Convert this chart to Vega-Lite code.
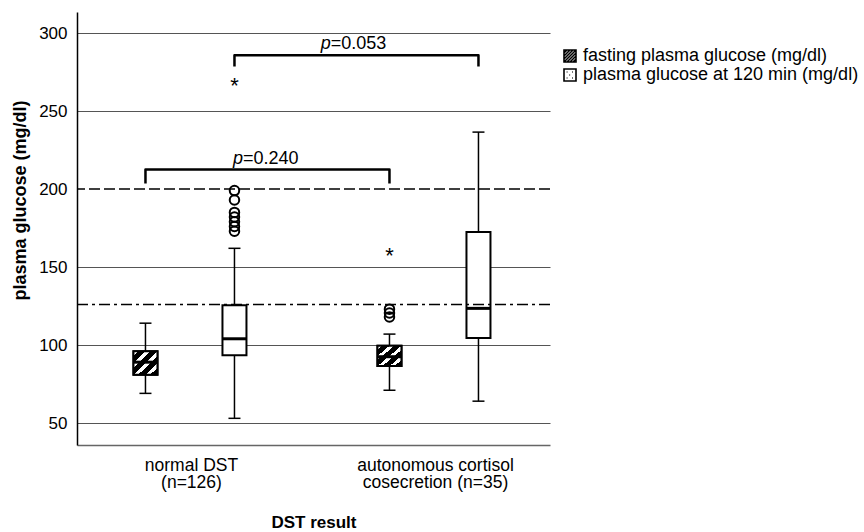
{
  "$schema": "https://vega.github.io/schema/vega-lite/v6.json",
  "width": 473,
  "height": 433,
  "autosize": {"type": "none"},
  "padding": {"left": 77, "top": 12, "right": 314, "bottom": 87},
  "background": "white",
  "config": {
    "font": "Liberation Sans",
    "view": {"stroke": null},
    "axis": {"labelColor": "black", "titleColor": "black", "labelFontSize": 17, "titleFontSize": 17, "titleFontWeight": "bold", "ticks": false},
    "legend": {"labelFontSize": 18, "labelColor": "black"}
  },
  "datasets": {
    "boxes": [
      {"group": "normal", "type": "fasting plasma glucose (mg/dl)", "lo": 69, "q1": 81, "median": 89, "q3": 96, "hi": 114},
      {"group": "normal", "type": "plasma glucose at 120 min (mg/dl)", "lo": 53, "q1": 93.5, "median": 104, "q3": 125.5, "hi": 162},
      {"group": "autonomous", "type": "fasting plasma glucose (mg/dl)", "lo": 71, "q1": 86.5, "median": 92.5, "q3": 99.5, "hi": 107},
      {"group": "autonomous", "type": "plasma glucose at 120 min (mg/dl)", "lo": 64, "q1": 104.5, "median": 123.5, "q3": 172.5, "hi": 236.5}
    ],
    "outliers": [
      {"group": "normal", "type": "plasma glucose at 120 min (mg/dl)", "glucose": 199},
      {"group": "normal", "type": "plasma glucose at 120 min (mg/dl)", "glucose": 193},
      {"group": "normal", "type": "plasma glucose at 120 min (mg/dl)", "glucose": 185},
      {"group": "normal", "type": "plasma glucose at 120 min (mg/dl)", "glucose": 182},
      {"group": "normal", "type": "plasma glucose at 120 min (mg/dl)", "glucose": 179},
      {"group": "normal", "type": "plasma glucose at 120 min (mg/dl)", "glucose": 176},
      {"group": "normal", "type": "plasma glucose at 120 min (mg/dl)", "glucose": 173},
      {"group": "autonomous", "type": "fasting plasma glucose (mg/dl)", "glucose": 123},
      {"group": "autonomous", "type": "fasting plasma glucose (mg/dl)", "glucose": 120.5},
      {"group": "autonomous", "type": "fasting plasma glucose (mg/dl)", "glucose": 118}
    ],
    "extremes": [
      {"group": "normal", "type": "plasma glucose at 120 min (mg/dl)", "glucose": 269},
      {"group": "autonomous", "type": "fasting plasma glucose (mg/dl)", "glucose": 160}
    ],
    "thresholds": [
      {"threshold": "diabetes 120 min", "glucose": 200},
      {"threshold": "diabetes fasting", "glucose": 126}
    ],
    "brackets": [
      {"comparison": "fasting", "group": "normal", "type": "fasting plasma glucose (mg/dl)", "glucose": 203.6, "seq": 1},
      {"comparison": "fasting", "group": "normal", "type": "fasting plasma glucose (mg/dl)", "glucose": 212.5, "seq": 2},
      {"comparison": "fasting", "group": "autonomous", "type": "fasting plasma glucose (mg/dl)", "glucose": 212.5, "seq": 3},
      {"comparison": "fasting", "group": "autonomous", "type": "fasting plasma glucose (mg/dl)", "glucose": 203.6, "seq": 4},
      {"comparison": "120 min", "group": "normal", "type": "plasma glucose at 120 min (mg/dl)", "glucose": 278.6, "seq": 1},
      {"comparison": "120 min", "group": "normal", "type": "plasma glucose at 120 min (mg/dl)", "glucose": 285.8, "seq": 2},
      {"comparison": "120 min", "group": "autonomous", "type": "plasma glucose at 120 min (mg/dl)", "glucose": 285.8, "seq": 3},
      {"comparison": "120 min", "group": "autonomous", "type": "plasma glucose at 120 min (mg/dl)", "glucose": 278.6, "seq": 4}
    ],
    "pvals": [
      {"comparison": "fasting", "group": "normal", "type": "plasma glucose at 120 min (mg/dl)", "glucose": 216, "pText": "=0.240"},
      {"comparison": "120 min", "group": "autonomous", "type": "fasting plasma glucose (mg/dl)", "glucose": 290, "pText": "=0.053"}
    ]
  },
  "layer": [
    {
      "data": {"name": "boxes"},
      "mark": {"type": "rule", "color": "black", "strokeWidth": 1.5},
      "encoding": {
        "x": {"field": "group", "type": "nominal", "title": "DST result",
          "scale": {"domain": ["normal", "autonomous"], "paddingInner": 0.0615, "paddingOuter": 0, "round": false},
          "axis": {"labelExpr": "datum.value === 'normal' ? ['normal DST','(n=126)'] : ['autonomous cortisol','cosecretion (n=35)']",
            "labelAngle": 0, "labelFontSize": 17.5, "labelPadding": 11, "labelLineHeight": 17.5, "titlePadding": 23, "domainColor": "#666", "domainWidth": 1.5}},
        "xOffset": {"field": "type", "type": "nominal",
          "scale": {"domain": ["fasting plasma glucose (mg/dl)", "plasma glucose at 120 min (mg/dl)"], "paddingInner": 0, "paddingOuter": 0.2865, "align": 0.47}},
        "y": {"field": "lo", "type": "quantitative", "title": "plasma glucose (mg/dl)",
          "scale": {"domain": [35.9, 313.5], "nice": false, "zero": false},
          "axis": {"values": [50, 100, 150, 200, 250, 300], "grid": true,
            "gridColor": {"condition": {"test": "datum.value === 200", "value": "transparent"}, "value": "#555"},
            "gridWidth": 1.2, "labelPadding": 10, "titleFontSize": 18, "titleX": -57, "titleY": 188, "titleBaseline": "middle",
            "domainColor": "black", "domainWidth": 1.5}},
        "y2": {"field": "hi"}
      }
    },
    {
      "data": {"name": "boxes"},
      "mark": {"type": "tick", "color": "black", "size": 12, "thickness": 1.5, "opacity": 1},
      "encoding": {
        "x": {"field": "group", "type": "nominal"},
        "xOffset": {"field": "type", "type": "nominal"},
        "y": {"field": "lo", "type": "quantitative", "title": "plasma glucose (mg/dl)"}
      }
    },
    {
      "data": {"name": "boxes"},
      "mark": {"type": "tick", "color": "black", "size": 12, "thickness": 1.5, "opacity": 1},
      "encoding": {
        "x": {"field": "group", "type": "nominal"},
        "xOffset": {"field": "type", "type": "nominal"},
        "y": {"field": "hi", "type": "quantitative", "title": "plasma glucose (mg/dl)"}
      }
    },
    {
      "data": {"name": "boxes"},
      "mark": {"type": "point", "filled": false, "color": "black", "size": 20, "strokeWidth": 1},
      "encoding": {
        "x": {"field": "group", "type": "nominal"},
        "xOffset": {"field": "type", "type": "nominal"},
        "y": {"field": "median", "type": "quantitative", "title": "plasma glucose (mg/dl)"},
        "shape": {"field": "type", "type": "nominal",
          "scale": {"domain": ["fasting plasma glucose (mg/dl)", "plasma glucose at 120 min (mg/dl)"],
            "range": [
              "M-1,-1H1V1H-1Z M-1,0L0,-1 M-1,1L1,-1 M0,1L1,0 M-1,-0.5L-0.5,-1 M-1,0.5L0.5,-1 M-0.5,1L1,-0.5 M0.5,1L1,0.5",
              "M-1,-1H1V1H-1Z M-0.55,-0.5h0.12 M0.35,-0.5h0.12 M-0.1,0h0.12 M-0.55,0.5h0.12 M0.35,0.5h0.12"
            ]},
          "legend": {"orient": "none", "legendX": 484, "legendY": 35, "title": null, "symbolSize": 144,
            "symbolStrokeColor": "black", "symbolFillColor": "white", "symbolStrokeWidth": 1.6, "symbolOpacity": 1,
            "rowPadding": -2, "labelOffset": 4, "labelLimit": 0}}
      }
    },
    {
      "data": {"name": "boxes"},
      "mark": {"type": "bar", "width": 24, "stroke": "black", "strokeWidth": 2, "fill": "white"},
      "encoding": {
        "x": {"field": "group", "type": "nominal"},
        "xOffset": {"field": "type", "type": "nominal"},
        "y": {"field": "q1", "type": "quantitative", "title": "plasma glucose (mg/dl)"},
        "y2": {"field": "q3"}
      }
    },
    {
      "data": {"name": "boxes"},
      "transform": [{"filter": "datum.type === 'fasting plasma glucose (mg/dl)'"}],
      "mark": {"type": "bar", "width": 24, "stroke": "black", "strokeWidth": 2,
        "fill": {"gradient": "linear", "x1": 0, "y1": 0, "x2": 1, "y2": 1, "stops": [
          {"offset": 0, "color": "white"}, {"offset": 0.1, "color": "white"},
          {"offset": 0.1, "color": "black"}, {"offset": 0.25, "color": "black"},
          {"offset": 0.25, "color": "white"}, {"offset": 0.35, "color": "white"},
          {"offset": 0.35, "color": "black"}, {"offset": 0.5, "color": "black"},
          {"offset": 0.5, "color": "white"}, {"offset": 0.6, "color": "white"},
          {"offset": 0.6, "color": "black"}, {"offset": 0.75, "color": "black"},
          {"offset": 0.75, "color": "white"}, {"offset": 0.85, "color": "white"},
          {"offset": 0.85, "color": "black"}, {"offset": 1, "color": "black"}
        ]}},
      "encoding": {
        "x": {"field": "group", "type": "nominal"},
        "xOffset": {"field": "type", "type": "nominal"},
        "y": {"field": "q1", "type": "quantitative", "title": "plasma glucose (mg/dl)"},
        "y2": {"field": "q3"}
      }
    },
    {
      "data": {"name": "boxes"},
      "mark": {"type": "tick", "color": "black", "size": 24, "thickness": 3, "opacity": 1},
      "encoding": {
        "x": {"field": "group", "type": "nominal"},
        "xOffset": {"field": "type", "type": "nominal"},
        "y": {"field": "median", "type": "quantitative", "title": "plasma glucose (mg/dl)"}
      }
    },
    {
      "data": {"name": "outliers"},
      "mark": {"type": "point", "shape": "circle", "filled": false, "color": "black", "size": 90, "strokeWidth": 2, "opacity": 1},
      "encoding": {
        "x": {"field": "group", "type": "nominal"},
        "xOffset": {"field": "type", "type": "nominal"},
        "y": {"field": "glucose", "type": "quantitative", "title": "plasma glucose (mg/dl)"}
      }
    },
    {
      "data": {"name": "extremes"},
      "mark": {"type": "text", "text": "*", "fontSize": 22, "baseline": "alphabetic", "dy": 12, "color": "black"},
      "encoding": {
        "x": {"field": "group", "type": "nominal"},
        "xOffset": {"field": "type", "type": "nominal"},
        "y": {"field": "glucose", "type": "quantitative", "title": "plasma glucose (mg/dl)"}
      }
    },
    {
      "data": {"name": "thresholds"},
      "mark": {"type": "rule", "color": "black", "strokeWidth": 1.5},
      "encoding": {
        "y": {"field": "glucose", "type": "quantitative", "title": "plasma glucose (mg/dl)"},
        "strokeDash": {"field": "threshold", "type": "nominal",
          "scale": {"domain": ["diabetes 120 min", "diabetes fasting"], "range": [[11, 4], [11, 4, 3, 4]]}, "legend": null}
      }
    },
    {
      "data": {"name": "brackets"},
      "mark": {"type": "line", "color": "black", "strokeWidth": 2.5, "strokeJoin": "round"},
      "encoding": {
        "x": {"field": "group", "type": "nominal"},
        "xOffset": {"field": "type", "type": "nominal"},
        "y": {"field": "glucose", "type": "quantitative", "title": "plasma glucose (mg/dl)"},
        "detail": {"field": "comparison"},
        "order": {"field": "seq"}
      }
    },
    {
      "data": {"name": "pvals"},
      "transform": [{"filter": "datum.comparison === 'fasting'"}],
      "mark": {"type": "text", "text": "p", "fontStyle": "italic", "align": "right", "baseline": "alphabetic", "dx": 8.5, "fontSize": 18, "color": "black"},
      "encoding": {
        "x": {"field": "group", "type": "nominal"},
        "xOffset": {"field": "type", "type": "nominal"},
        "y": {"field": "glucose", "type": "quantitative", "title": "plasma glucose (mg/dl)"}
      }
    },
    {
      "data": {"name": "pvals"},
      "transform": [{"filter": "datum.comparison === 'fasting'"}],
      "mark": {"type": "text", "align": "left", "baseline": "alphabetic", "dx": 8.5, "fontSize": 18, "color": "black"},
      "encoding": {
        "x": {"field": "group", "type": "nominal"},
        "xOffset": {"field": "type", "type": "nominal"},
        "y": {"field": "glucose", "type": "quantitative", "title": "plasma glucose (mg/dl)"},
        "text": {"field": "pText"}
      }
    },
    {
      "data": {"name": "pvals"},
      "transform": [{"filter": "datum.comparison === '120 min'"}],
      "mark": {"type": "text", "text": "p", "fontStyle": "italic", "align": "right", "baseline": "alphabetic", "dx": -58.8, "fontSize": 18, "color": "black"},
      "encoding": {
        "x": {"field": "group", "type": "nominal"},
        "xOffset": {"field": "type", "type": "nominal"},
        "y": {"field": "glucose", "type": "quantitative", "title": "plasma glucose (mg/dl)"}
      }
    },
    {
      "data": {"name": "pvals"},
      "transform": [{"filter": "datum.comparison === '120 min'"}],
      "mark": {"type": "text", "align": "left", "baseline": "alphabetic", "dx": -58.8, "fontSize": 18, "color": "black"},
      "encoding": {
        "x": {"field": "group", "type": "nominal"},
        "xOffset": {"field": "type", "type": "nominal"},
        "y": {"field": "glucose", "type": "quantitative", "title": "plasma glucose (mg/dl)"},
        "text": {"field": "pText"}
      }
    }
  ]
}
